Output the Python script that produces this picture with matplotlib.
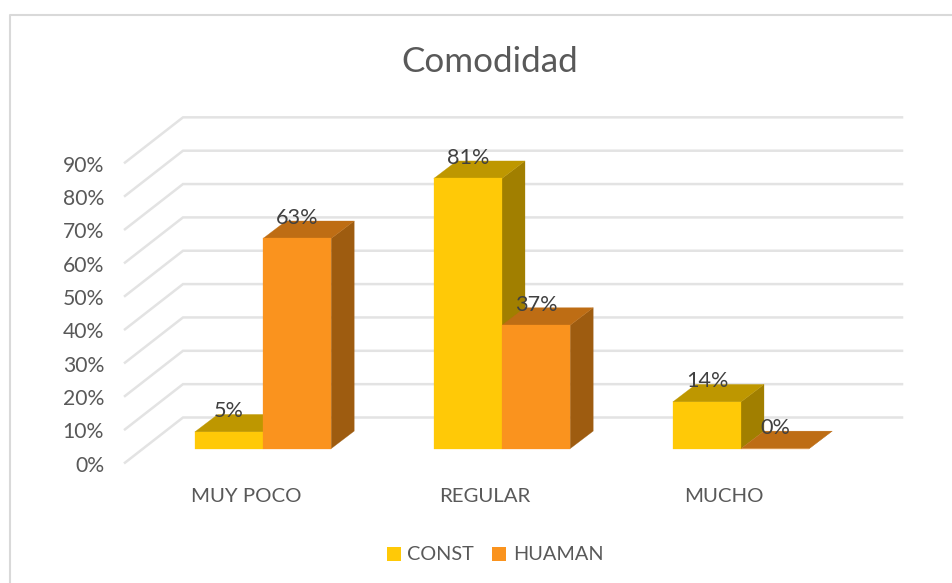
# Comodidad - fake 3D clustered bars drawn on a flat axes
import matplotlib
matplotlib.use('Agg')
import matplotlib.pyplot as plt
from matplotlib.patches import Polygon, Patch

plt.rcParams['font.family'] = ['Lato', 'DejaVu Sans']

# Data
categories = ['MUY POCO', 'REGULAR', 'MUCHO']
const_vals = [5, 81, 14]
huaman_vals = [63, 37, 0]
y_ticks = [0, 10, 20, 30, 40, 50, 60, 70, 80, 90]
series_names = ['CONST', 'HUAMAN']

# Colours: front, top, side
yellow = ('#FFC907', '#BE9700', '#A17F00')
orange = ('#FA931E', '#BE6D14', '#9E5C10')
grid_col = '#E3E3E3'
text_col = '#595959'
label_col = '#404040'

# Scale of the axes (one category = 239 px, one percent = 3.335 px)
W, H = 953, 583
PX_X = 239.0
PX_Y = 3.335
X0, Y0 = 263.0, 448.6

fig = plt.figure(figsize=(W / 100, H / 100), dpi=100)
ax = fig.add_axes([0, 0, 1, 1])
ax.set_xlim(-X0 / PX_X, (W - X0) / PX_X)
ax.set_ylim(-(H - Y0) / PX_Y, Y0 / PX_Y)
ax.axis('off')

bar_w = 68.2 / PX_X
depth_x = 23 / PX_X
depth_y = 17.5 / PX_Y

# Walls: grid lines run from the front edge, back, then to the right
wall_front_x = (125 - X0) / PX_X
wall_back_x = (183 - X0) / PX_X
wall_right_x = (902 - X0) / PX_X
front_drop = 14.1 / PX_Y
back_rise = 31.1 / PX_Y

for v in y_ticks:
    ax.plot([wall_front_x, wall_back_x, wall_right_x],
            [v - front_drop, v + back_rise, v + back_rise],
            color=grid_col, lw=1.8, zorder=1, solid_joinstyle='miter')
    ax.text(wall_front_x - 21 / PX_X, v - front_drop - 0.9, f'{v}%', ha='right', va='center',
            fontsize=15.2, color=text_col)


def draw_bar(x, v, cols, z):
    front = [(x, 0), (x + bar_w, 0), (x + bar_w, v), (x, v)]
    top = [(x, v), (x + bar_w, v), (x + bar_w + depth_x, v + depth_y), (x + depth_x, v + depth_y)]
    side = [(x + bar_w, 0), (x + bar_w + depth_x, depth_y),
            (x + bar_w + depth_x, v + depth_y), (x + bar_w, v)]
    for pts, c in zip([side, top, front], [cols[2], cols[1], cols[0]]):
        ax.add_patch(Polygon(pts, closed=True, facecolor=c, edgecolor=c, lw=0.2, zorder=z))
    ax.text(x + bar_w / 2, v + depth_y + 0.9, f'{v}%', ha='center', va='center',
            fontsize=15.6, color=label_col, zorder=10)


for i, cat in enumerate(categories):
    draw_bar(i - bar_w, const_vals[i], yellow, 2 + i)
    draw_bar(i, huaman_vals[i], orange, 2.5 + i)
    ax.text(i - 17 / PX_X, -14.5, cat, ha='center', va='center', fontsize=14.7, color=text_col)

ax.text((490 - X0) / PX_X, (Y0 - 62.1) / PX_Y, 'Comodidad', ha='center', va='center',
        fontsize=25.2, color=text_col)

# Chart frame, only top and left are visible in the picture
ax.plot([9.5, 9.5, W], [0, H - 15, H - 15], color='#D9D9D9', lw=1.5, transform=None, zorder=0)

handles = [Patch(facecolor=yellow[0], label=series_names[0]),
           Patch(facecolor=orange[0], label=series_names[1])]
ax.legend(handles=handles, loc='center', bbox_to_anchor=(495 / W, 1 - 555 / H), ncol=2,
          frameon=False, fontsize=14.3, labelcolor=text_col, handlelength=0.7, handleheight=0.7,
          handletextpad=0.32, columnspacing=0.95)

fig.savefig('out.png', dpi=100)
